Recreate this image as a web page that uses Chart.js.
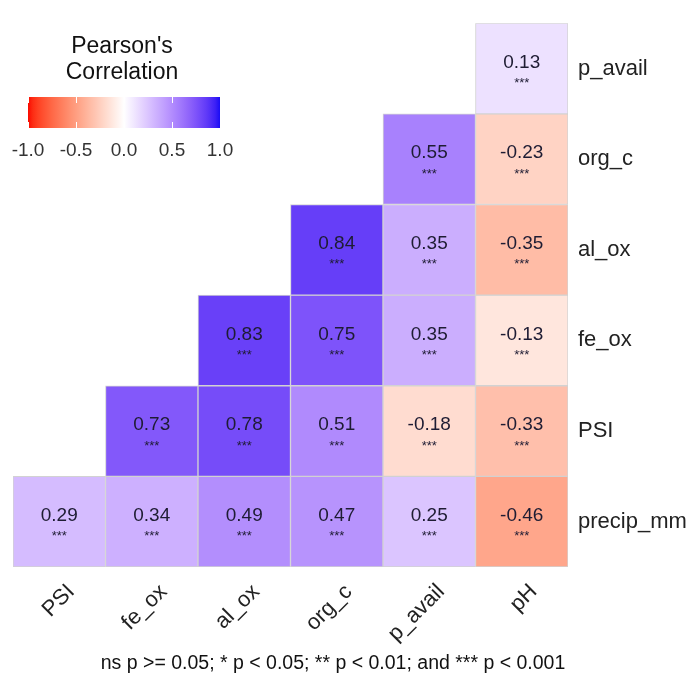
<!DOCTYPE html>
<html>
<head>
<meta charset="utf-8">
<script src="https://cdn.jsdelivr.net/npm/chart.js@4.4.1/dist/chart.umd.min.js"></script>
<style>
  html, body { margin: 0; padding: 0; background: #fff; }
  #wrap { width: 689px; height: 673px; position: relative; }
</style>
</head>
<body>
<div id="wrap"><canvas id="corrChart" width="689" height="673"></canvas></div>
<script>
// columns left to right, rows top to bottom
const xLabels = ['PSI', 'fe_ox', 'al_ox', 'org_c', 'p_avail', 'pH'];
const yLabels = ['p_avail', 'org_c', 'al_ox', 'fe_ox', 'PSI', 'precip_mm'];

// Pearson r per row, null = empty (upper triangle)
const rowPAvail  = [null, null, null, null, null, 0.13];
const rowOrgC    = [null, null, null, null, 0.55, -0.23];
const rowAlOx    = [null, null, null, 0.84, 0.35, -0.35];
const rowFeOx    = [null, null, 0.83, 0.75, 0.35, -0.13];
const rowPSI     = [null, 0.73, 0.78, 0.51, -0.18, -0.33];
const rowPrecip  = [0.29, 0.34, 0.49, 0.47, 0.25, -0.46];
const corrRows = [rowPAvail, rowOrgC, rowAlOx, rowFeOx, rowPSI, rowPrecip];

// every pair is p < 0.001
const sigMark = '***';

const legendTitle = ["Pearson's", 'Correlation'];
const legendTicks = [-1, -0.5, 0, 0.5, 1];
const footnote = 'ns p >= 0.05; * p < 0.05; ** p < 0.01; and *** p < 0.001';

const FONT = "'Liberation Sans', Arial, sans-serif";

// --- colour scale: red - white - blue, interpolated in Lab like ggplot ---
function toLin(c) { c /= 255; return c <= 0.04045 ? c / 12.92 : Math.pow((c + 0.055) / 1.055, 2.4); }
function fromLin(c) {
  c = c <= 0.0031308 ? 12.92 * c : 1.055 * Math.pow(c, 1 / 2.4) - 0.055;
  return Math.round(Math.max(0, Math.min(1, c)) * 255);
}
function rgbToLab(rgb) {
  const [r, g, b] = rgb.map(toLin);
  const X = (0.4124564 * r + 0.3575761 * g + 0.1804375 * b) / 0.95047;
  const Y = 0.2126729 * r + 0.7151522 * g + 0.0721750 * b;
  const Z = (0.0193339 * r + 0.1191920 * g + 0.9503041 * b) / 1.08883;
  const f = t => t > 0.008856 ? Math.cbrt(t) : 7.787 * t + 16 / 116;
  return [116 * f(Y) - 16, 500 * (f(X) - f(Y)), 200 * (f(Y) - f(Z))];
}
function labToRgb(lab) {
  const fy = (lab[0] + 16) / 116, fx = fy + lab[1] / 500, fz = fy - lab[2] / 200;
  const inv = t => t * t * t > 0.008856 ? t * t * t : (t - 16 / 116) / 7.787;
  const X = inv(fx) * 0.95047, Y = inv(fy), Z = inv(fz) * 1.08883;
  const r = 3.2404542 * X - 1.5371385 * Y - 0.4985314 * Z;
  const g = -0.9692660 * X + 1.8760108 * Y + 0.0415560 * Z;
  const b = 0.0556434 * X - 0.2040259 * Y + 1.0572252 * Z;
  return [fromLin(r), fromLin(g), fromLin(b)];
}
const labLow = rgbToLab([250, 10, 0]);
const labMid = rgbToLab([255, 255, 255]);
const labHigh = rgbToLab([25, 12, 245]);
function corrColor(v) {
  const end = v < 0 ? labLow : labHigh;
  const t = Math.min(1, Math.abs(v));
  const lab = labMid.map((m, i) => m + (end[i] - m) * t);
  const [r, g, b] = labToRgb(lab);
  return `rgb(${r},${g},${b})`;
}

// one floating-bar dataset per row, spanning row index +/- 0.5
const datasets = corrRows.map((vals, r) => ({
  label: yLabels[r],
  data: vals.map(v => v === null ? null : [r - 0.5, r + 0.5]),
  corr: vals,
  backgroundColor: vals.map(v => v === null ? 'rgba(0,0,0,0)' : corrColor(v)),
  borderColor: '#d2d2d2',
  borderWidth: 1,
  borderSkipped: false,
  barPercentage: 1,
  categoryPercentage: 1,
  grouped: false
}));

// cell labels: value and stars
const cellLabels = {
  id: 'cellLabels',
  afterDatasetsDraw(chart) {
    const ctx = chart.ctx;
    ctx.save();
    ctx.textAlign = 'center';
    ctx.textBaseline = 'middle';
    ctx.fillStyle = '#1e1c33';
    chart.data.datasets.forEach((ds, i) => {
      chart.getDatasetMeta(i).data.forEach((bar, j) => {
        const v = ds.corr[j];
        if (v === null) return;
        const cy = (bar.y + bar.base) / 2;
        ctx.font = `19px ${FONT}`;
        ctx.fillText(v.toFixed(2), bar.x, cy - 6);
        ctx.font = `13px ${FONT}`;
        ctx.fillText(sigMark, bar.x, cy + 15);
      });
    });
    ctx.restore();
  }
};

// colour bar legend + footnote
const colorLegend = {
  id: 'colorLegend',
  afterDraw(chart) {
    const ctx = chart.ctx;
    const x0 = 28, x1 = 220, y0 = 97, y1 = 128;
    const px = v => x0 + (v + 1) / 2 * (x1 - x0);
    ctx.save();
    ctx.fillStyle = '#111';
    ctx.textAlign = 'center';
    ctx.textBaseline = 'middle';
    ctx.font = `23px ${FONT}`;
    ctx.fillText(legendTitle[0], 122, 47);
    ctx.fillText(legendTitle[1], 122, 73);

    const grad = ctx.createLinearGradient(x0, 0, x1, 0);
    for (let k = 0; k <= 40; k++) {
      grad.addColorStop(k / 40, corrColor(-1 + k / 20));
    }
    ctx.fillStyle = grad;
    ctx.fillRect(x0, y0, x1 - x0, y1 - y0);

    ctx.strokeStyle = '#fff';
    ctx.lineWidth = 1;
    legendTicks.forEach(t => {
      const x = Math.round(px(t)) + 0.5;
      ctx.beginPath();
      ctx.moveTo(x, y0); ctx.lineTo(x, y0 + 6);
      ctx.moveTo(x, y1 - 6); ctx.lineTo(x, y1);
      ctx.stroke();
    });

    ctx.fillStyle = '#333';
    ctx.font = `19px ${FONT}`;
    legendTicks.forEach(t => ctx.fillText(t.toFixed(1), px(t), 151));

    ctx.fillStyle = '#111';
    ctx.font = `19.5px ${FONT}`;
    ctx.fillText(footnote, 333, 664);
    ctx.restore();
  }
};

new Chart(document.getElementById('corrChart'), {
  type: 'bar',
  data: { labels: xLabels, datasets: datasets },
  options: {
    responsive: false,
    animation: false,
    layout: { padding: { left: 13, top: 14, right: 0, bottom: 0 } },
    plugins: {
      legend: { display: false },
      tooltip: { enabled: false }
    },
    scales: {
      x: {
        type: 'category',
        position: 'bottom',
        grid: { display: false, drawTicks: false },
        border: { display: false },
        ticks: {
          color: '#222',
          font: { family: FONT, size: 22 },
          minRotation: 45,
          maxRotation: 45,
          autoSkip: false,
          padding: 12,
          labelOffset: 12
        },
        afterFit(scale) { scale.height = 106; }
      },
      y: {
        type: 'linear',
        position: 'right',
        reverse: true,
        min: -0.5,
        max: 5.5,
        grid: { display: false, drawTicks: false },
        border: { display: false },
        afterBuildTicks(scale) { scale.ticks = yLabels.map((_, i) => ({ value: i })); },
        ticks: {
          color: '#222',
          font: { family: FONT, size: 22 },
          padding: 10,
          callback: v => yLabels[v] ?? ''
        },
        afterFit(scale) { scale.width = 121; }
      }
    }
  },
  plugins: [cellLabels, colorLegend]
});
</script>
</body>
</html>
